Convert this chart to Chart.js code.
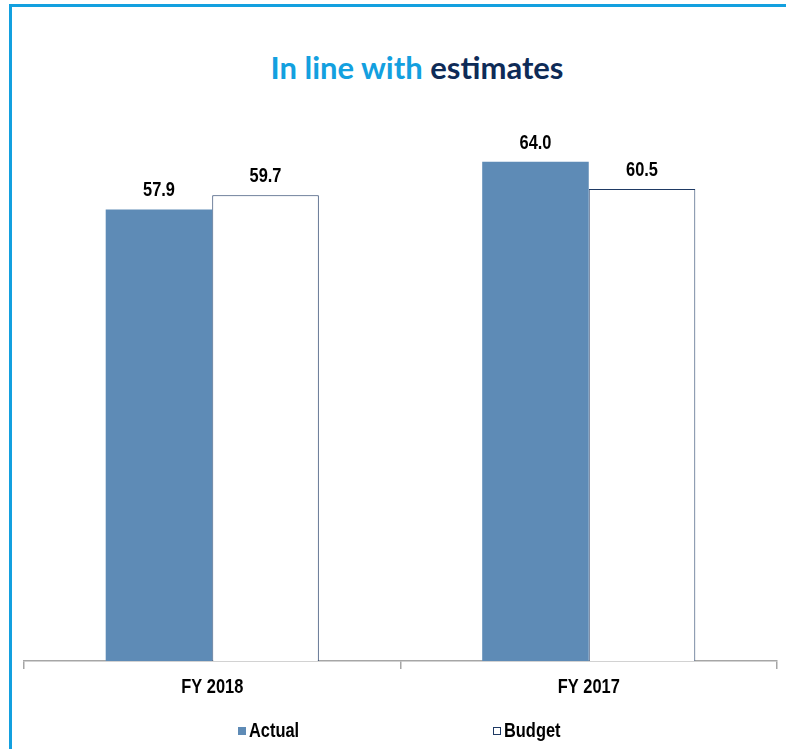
<!DOCTYPE html>
<html>
<head>
<meta charset="utf-8">
<script src="https://cdn.jsdelivr.net/npm/chart.js@4.4.1/dist/chart.umd.min.js"></script>
<style>
  html, body { margin: 0; padding: 0; background: #fff; }
  body { width: 786px; height: 749px; position: relative; overflow: hidden; }
  .frame { position: absolute; left: 9px; top: 4px; width: 800px; height: 760px;
           border-left: 3px solid #13A0DF; border-top: 3px solid #13A0DF; }
  .title { position: absolute; left: 24px; width: 786px; top: 48px; text-align: center;
           font-family: Lato, "DejaVu Sans", sans-serif; font-weight: 700; font-size: 31px; }
  .title .a { color: #13A0DF; }
  .title .b { color: #0E2B57; }
  #wrap { position: absolute; left: 0; top: 0; width: 786px; height: 749px; }
  #legend { position: absolute; top: 719px; left: 0; width: 786px; height: 26px;
            font-family: "Liberation Sans", Arial, sans-serif;
            font-weight: 700; font-size: 20px; color: #000; }
  #legend .item { position: absolute; display: flex; align-items: center; }
  #legend .box { width: 8px; height: 8px; margin-right: 3px; box-sizing: border-box; }
  #legend .txt { display: inline-block; transform: scaleX(0.82); transform-origin: left center; }
</style>
</head>
<body>
<div class="frame"></div>
<div class="title"><span class="a">In line with</span> <span class="b">estimates</span></div>
<div id="wrap"><canvas id="myChart" width="786" height="749"></canvas></div>
<div id="legend"></div>
<script>
  const categories = ['FY 2018', 'FY 2017'];
  const actual = [57.9, 64.0];
  const budget = [59.7, 60.5];
  const seriesNames = ['Actual', 'Budget'];

  const labelFont = '"Liberation Sans", Arial, sans-serif';
  const narrow = 0.82; // no narrow font installed, squeeze the bold sans instead

  function narrowText(ctx, text, x, y) {
    ctx.save();
    ctx.translate(x, y);
    ctx.scale(narrow, 1);
    ctx.fillText(text, 0, 0);
    ctx.restore();
  }

  // value labels above the bars + narrow category labels
  const narrowLabels = {
    id: 'narrowLabels',
    afterDatasetsDraw(chart) {
      const ctx = chart.ctx;
      ctx.save();
      ctx.font = 'bold 20px ' + labelFont;
      ctx.fillStyle = '#000';
      ctx.textAlign = 'center';
      ctx.textBaseline = 'alphabetic';
      chart.data.datasets.forEach(function (ds, i) {
        chart.getDatasetMeta(i).data.forEach(function (bar, j) {
          narrowText(ctx, ds.data[j].toFixed(1), bar.x, bar.y - 13);
        });
      });
      const xs = chart.scales.x;
      chart.data.labels.forEach(function (lab, i) {
        narrowText(ctx, lab, xs.getPixelForTick(i), xs.top + 32);
      });
      ctx.restore();
    }
  };

  const data = {
    labels: categories,
    datasets: [{
      label: seriesNames[0],
      data: actual,
      backgroundColor: '#5E8BB6',
      borderWidth: 0
    }, {
      label: seriesNames[1],
      data: budget,
      backgroundColor: '#FFFFFF',
      borderColor: '#1F3A64',
      borderWidth: 1
    }]
  };

  const config = {
    type: 'bar',
    data: data,
    options: {
      responsive: false,
      animation: false,
      layout: {
        padding: { left: 24, right: 9, top: 115, bottom: 44 }
      },
      datasets: {
        bar: { categoryPercentage: 0.566, barPercentage: 1.0 }
      },
      plugins: {
        legend: { display: false },
        tooltip: { enabled: false }
      },
      scales: {
        x: {
          grid: {
            display: true,
            offset: true,
            drawOnChartArea: false,
            drawTicks: true,
            tickLength: 8,
            color: '#A6A6A6',
            lineWidth: 1.5
          },
          border: { display: true, color: '#A6A6A6', width: 1.5 },
          ticks: {
            color: 'rgba(0,0,0,0)',   // drawn by narrowLabels
            padding: 6,
            font: { family: labelFont, size: 20, weight: 'bold' }
          }
        },
        y: {
          display: false,
          min: 0,
          max: 70
        }
      }
    },
    plugins: [narrowLabels]
  };

  const myChart = new Chart(document.getElementById('myChart'), config);

  // html legend built from the datasets
  const legendPos = [238, 493];
  const legend = document.getElementById('legend');
  myChart.data.datasets.forEach(function (ds, i) {
    const item = document.createElement('div');
    item.className = 'item';
    item.style.left = legendPos[i] + 'px';
    const box = document.createElement('span');
    box.className = 'box';
    box.style.background = ds.backgroundColor;
    if (ds.borderWidth) box.style.border = '1px solid ' + ds.borderColor;
    const txt = document.createElement('span');
    txt.className = 'txt';
    txt.textContent = ds.label;
    item.appendChild(box);
    item.appendChild(txt);
    legend.appendChild(item);
  });
</script>
</body>
</html>
